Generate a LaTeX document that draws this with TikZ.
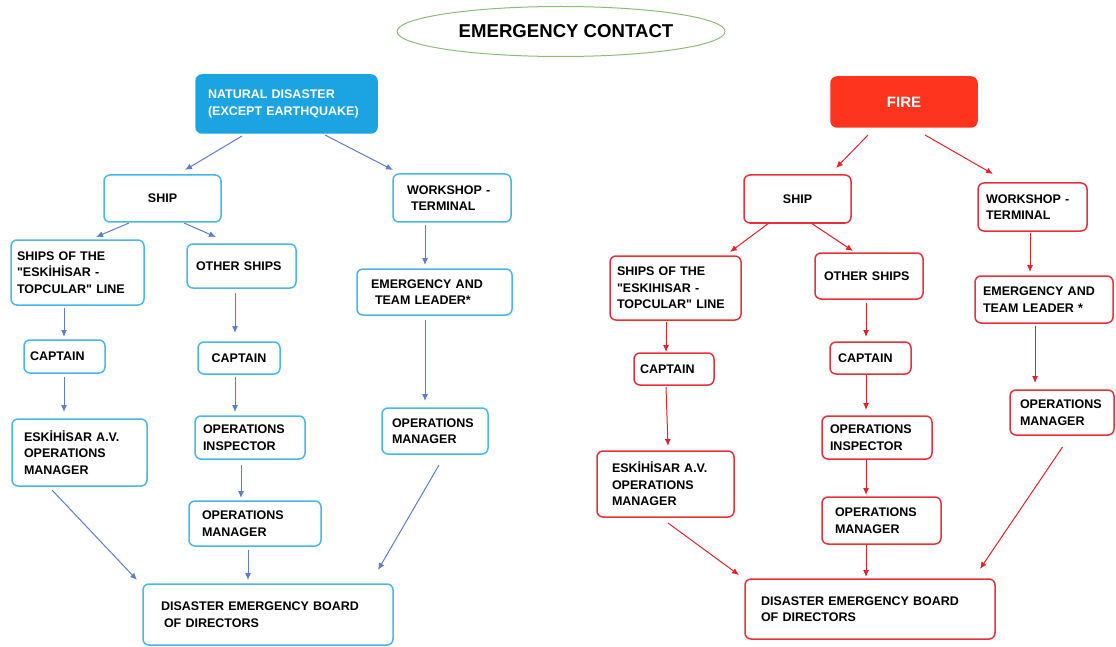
\documentclass[tikz,border=0pt]{standalone}
\usepackage{fontspec}
\setmainfont{Liberation Sans}[Ligatures=TeXOff]
\usetikzlibrary{shapes.geometric,arrows.meta}

\definecolor{natblue}{RGB}{27,163,226}
\definecolor{boxblue}{RGB}{72,182,230}
\definecolor{arrowblue}{RGB}{92,124,204}
\definecolor{firered}{RGB}{255,52,30}
\definecolor{boxred}{RGB}{232,48,58}
\definecolor{arrowred}{RGB}{228,34,40}
\definecolor{ovalgreen}{RGB}{140,188,118}

\tikzset{
    bluebox/.style={draw=boxblue, line width=1.5pt, rounded corners=6pt, inner sep=0pt, outer sep=0pt, align=left, font=\bfseries\fontsize{12.5}{16.5}\selectfont},
    redbox/.style={bluebox, draw=boxred},
    boxsize/.style n args={3}{minimum width=#1pt, minimum height=#2pt, text width=#3pt},
    bluearrow/.style={draw=arrowblue, line width=1pt, -{Latex[length=7pt,width=6pt]}},
    redarrow/.style={bluearrow, draw=arrowred},
}

\begin{document}
\begin{tikzpicture}[x=1pt,y=-1pt]
    \useasboundingbox (0,0) rectangle (1116,647);

    \node[ellipse, draw=ovalgreen, line width=1pt, inner sep=0pt, minimum width=328pt, minimum height=50pt, font=\bfseries\fontsize{18.6}{22}\selectfont] (title) at (561,31.5) {\hspace*{10pt}EMERGENCY CONTACT};

    % natural disaster
    \node[bluebox, boxsize={181}{58}{157}, fill=natblue, draw=natblue, text=white] (nd) at (286.5,104) {NATURAL DISASTER\\(EXCEPT EARTHQUAKE)};
    \node[bluebox, boxsize={117}{47}{60}, align=center] (lship) at (162.5,198.5) {SHIP};
    \node[bluebox, boxsize={118}{48}{90}] (lwork) at (452,198) {WORKSHOP -\\\hspace*{4pt}TERMINAL};
    \node[bluebox, boxsize={133}{65}{121}] (lships) at (77.5,272.5) {SHIPS OF THE\\"ESKİHİSAR -\\TOPCULAR" LINE};
    \node[bluebox, boxsize={109}{44}{91}] (lother) at (241.5,266) {OTHER SHIPS};
    \node[bluebox, boxsize={155}{46}{127}] (lemerg) at (434.5,292) {EMERGENCY AND\\\hspace*{4pt}TEAM LEADER*};
    \node[bluebox, boxsize={81}{33}{69}] (lcap1) at (64.5,356.5) {CAPTAIN};
    \node[bluebox, boxsize={82}{32}{60}, align=center] (lcap2) at (239,358) {CAPTAIN};
    \node[bluebox, boxsize={135}{67}{111}] (lesk) at (79.5,452.5) {ESKİHİSAR A.V.\\OPERATIONS\\MANAGER};
    \node[bluebox, boxsize={110}{43}{94}] (lopins) at (250,437.5) {OPERATIONS\\INSPECTOR};
    \node[bluebox, boxsize={132}{45}{106}] (lopm2) at (255,523.5) {OPERATIONS\\MANAGER};
    \node[bluebox, boxsize={106}{46}{86}] (lopm1) at (435,431) {OPERATIONS\\MANAGER};
    \node[bluebox, boxsize={250}{61}{214}] (lboard) at (268,614.5) {DISASTER EMERGENCY BOARD\\\hspace*{3pt}OF DIRECTORS};

    \draw[bluearrow] ([xshift=-44.5pt,yshift=-3pt]nd.south) -- ([xshift=22.5pt,yshift=5pt]lship.north);
    \draw[bluearrow] ([xshift=38.5pt,yshift=-2pt]nd.south) -- ([xshift=-59pt,yshift=4pt]lwork.north);
    \draw[bluearrow] ([xshift=-33.5pt,yshift=-1pt]lship.south) -- ([xshift=18.5pt,yshift=3pt]lships.north);
    \draw[bluearrow] ([xshift=21.5pt,yshift=-1pt]lship.south) -- ([xshift=-25.5pt,yshift=7pt]lother.north);
    \draw[bluearrow] ([xshift=-27pt,yshift=-3pt]lwork.south) -- ([xshift=-9.5pt,yshift=4pt]lemerg.north);
    \draw[bluearrow] ([xshift=-13.5pt,yshift=-3pt]lships.south) -- ([xshift=-0.5pt,yshift=3pt]lcap1.north);
    \draw[bluearrow] ([xshift=-6.5pt,yshift=-5pt]lother.south) -- ([xshift=-4pt,yshift=9pt]lcap2.north);
    \draw[bluearrow] ([xshift=-9.5pt,yshift=-5pt]lemerg.south) -- ([xshift=-10pt,yshift=7pt]lopm1.north);
    \draw[bluearrow] ([xshift=-0.5pt,yshift=-4pt]lcap1.south) -- ([xshift=-15.5pt,yshift=7pt]lesk.north);
    \draw[bluearrow] ([xshift=-4pt,yshift=-3pt]lcap2.south) -- ([xshift=-15pt,yshift=4pt]lopins.north);
    \draw[bluearrow] ([xshift=-9pt,yshift=-6pt]lopins.south) -- ([xshift=-14pt,yshift=3pt]lopm2.north);
    \draw[bluearrow] ([xshift=-27.5pt,yshift=-4pt]lesk.south) -- ([xshift=-6pt,yshift=4pt]lboard.north west);
    \draw[bluearrow] ([xshift=-7pt,yshift=-4pt]lopm2.south) -- ([xshift=-20pt,yshift=4pt]lboard.north);
    \draw[bluearrow] ([xshift=4pt,yshift=-11pt]lopm1.south) -- ([xshift=-15pt,yshift=14pt]lboard.north east);

    % fire
    \node[redbox, boxsize={146}{50}{80}, fill=firered, draw=firered, text=white, align=center, font=\bfseries\fontsize{15}{18}\selectfont] (fire) at (904,102) {FIRE};
    \node[redbox, boxsize={107}{48}{60}, align=center] (rship) at (797.5,199) {SHIP};
    \node[redbox, boxsize={109}{48}{93}] (rwork) at (1032.5,207) {WORKSHOP -\\TERMINAL};
    \node[redbox, boxsize={131}{64}{117}] (rships) at (675.5,288) {SHIPS OF THE\\"ESKIHISAR -\\TOPCULAR" LINE};
    \node[redbox, boxsize={108}{46}{90}] (rother) at (869,276) {OTHER SHIPS};
    \node[redbox, boxsize={138}{47}{122}] (remerg) at (1044,299.5) {EMERGENCY AND\\TEAM LEADER *};
    \node[redbox, boxsize={80}{32}{68}] (rcap1) at (674,369) {CAPTAIN};
    \node[redbox, boxsize={81}{32}{65}] (rcap2) at (870.5,358) {CAPTAIN};
    \node[redbox, boxsize={137}{66}{107}] (resk) at (665.5,484) {ESKİHİSAR A.V.\\OPERATIONS\\MANAGER};
    \node[redbox, boxsize={110}{43}{94}] (ropins) at (877,437.5) {OPERATIONS\\INSPECTOR};
    \node[redbox, boxsize={119}{47}{93}] (ropm2) at (881.5,520.5) {OPERATIONS\\MANAGER};
    \node[redbox, boxsize={104}{45}{84}] (ropm1) at (1062,412.5) {OPERATIONS\\MANAGER};
    \node[redbox, boxsize={250}{60}{218}] (rboard) at (870,609) {DISASTER EMERGENCY BOARD\\OF DIRECTORS};

    \draw[redarrow] ([xshift=-36pt,yshift=-8pt]fire.south) -- ([xshift=38.5pt,yshift=7pt]rship.north);
    \draw[redarrow] ([xshift=21pt,yshift=-8pt]fire.south) -- ([xshift=-39.5pt,yshift=9pt]rwork.north);
    \draw[redarrow] ([xshift=-28.5pt]rship.south) -- ([xshift=54.5pt,yshift=4pt]rships.north);
    \draw[redarrow] ([xshift=13.5pt]rship.south) -- ([xshift=-16pt,yshift=2pt]rother.north);
    \draw[redarrow] ([xshift=-2.5pt,yshift=-2pt]rwork.south) -- ([xshift=-14pt,yshift=4pt]remerg.north);
    \draw[redarrow] ([xshift=-9.5pt,yshift=-2pt]rships.south) -- ([xshift=-8pt,yshift=1pt]rcap1.north);
    \draw[redarrow] ([xshift=-3pt,yshift=-4pt]rother.south) -- ([xshift=-4.5pt,yshift=5pt]rcap2.north);
    \draw[redarrow] ([xshift=-9pt,yshift=-3pt]remerg.south) -- ([xshift=-27pt,yshift=7pt]ropm1.north);
    \draw[redarrow] ([xshift=-8pt,yshift=-2pt]rcap1.south) -- ([xshift=2.5pt,yshift=5pt]resk.north);
    \draw[redarrow] ([xshift=-4.5pt,yshift=-1pt]rcap2.south) -- ([xshift=-11pt,yshift=6pt]ropins.north);
    \draw[redarrow] ([xshift=-11pt,yshift=-1pt]ropins.south) -- ([xshift=-15.5pt,yshift=2pt]ropm2.north);
    \draw[redarrow] ([xshift=2.5pt,yshift=-6pt]resk.south) -- ([xshift=-6pt,yshift=4pt]rboard.north west);
    \draw[redarrow] ([xshift=-15.5pt,yshift=-1pt]ropm2.south) -- ([xshift=-4pt,yshift=2pt]rboard.north);
    \draw[redarrow] ([xshift=0.5pt,yshift=-12pt]ropm1.south) -- ([xshift=-15pt,yshift=10pt]rboard.north east);
\end{tikzpicture}
\end{document}
